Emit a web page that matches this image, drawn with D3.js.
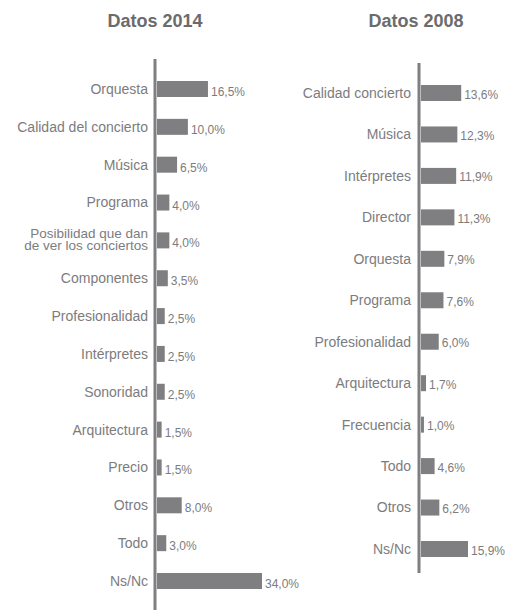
<!DOCTYPE html>
<html>
<head>
<meta charset="utf-8">
<script src="https://cdn.jsdelivr.net/npm/d3@7"></script>
<style>
  body { margin: 0; background: #fff; }
  text { font-family: "Liberation Sans", Arial, sans-serif; }
</style>
</head>
<body>
<div class="chart"></div>
<script>
var svgWidth = 521;
var svgHeight = 610;

// datos 2014
var cats2014 = ["Orquesta", "Calidad del concierto", "Música", "Programa",
  "Posibilidad que dan|de ver los conciertos", "Componentes", "Profesionalidad",
  "Intérpretes", "Sonoridad", "Arquitectura", "Precio", "Otros", "Todo", "Ns/Nc"];
var vals2014 = [16.5, 10.0, 6.5, 4.0, 4.0, 3.5, 2.5, 2.5, 2.5, 1.5, 1.5, 8.0, 3.0, 34.0];

// datos 2008
var cats2008 = ["Calidad concierto", "Música", "Intérpretes", "Director", "Orquesta",
  "Programa", "Profesionalidad", "Arquitectura", "Frecuencia", "Todo", "Otros", "Ns/Nc"];
var vals2008 = [13.6, 12.3, 11.9, 11.3, 7.9, 7.6, 6.0, 1.7, 1.0, 4.6, 6.2, 15.9];

var barColor = "#7f7f82";
var textColor = "#7c7c7e";

var svg = d3.select(".chart")
    .append("svg")
    .attr("width", svgWidth)
    .attr("height", svgHeight);

function drawPanel(opt) {
  var g = svg.append("g");

  var yScale = d3.scalePoint()
      .domain(opt.cats)
      .range(opt.yRange);

  var xScale = d3.scaleLinear()
      .domain([0, opt.xMax])
      .range([opt.x0, opt.x0 + opt.xLen]);

  // title
  g.append("text")
      .attr("x", opt.titleX)
      .attr("y", 27)
      .attr("text-anchor", "middle")
      .attr("font-size", "18px")
      .attr("font-weight", "bold")
      .attr("fill", "#6b6b6d")
      .text(opt.title);

  // bars
  var barH = 16;
  g.selectAll("rect")
      .data(opt.cats)
      .join("rect")
      .attr("x", xScale(0))
      .attr("y", d => yScale(d) - barH / 2)
      .attr("width", (d, i) => xScale(opt.vals[i]) - xScale(0))
      .attr("height", barH)
      .attr("fill", barColor);

  // axis line
  g.append("line")
      .attr("x1", opt.axisX).attr("x2", opt.axisX)
      .attr("y1", opt.axisY[0]).attr("y2", opt.axisY[1])
      .attr("stroke", barColor)
      .attr("stroke-width", 3);

  // category labels (| = line break)
  g.selectAll(".cat")
      .data(opt.cats)
      .join("text")
      .classed("cat", true)
      .attr("x", opt.labelX)
      .attr("y", d => yScale(d))
      .attr("text-anchor", "end")
      .attr("font-size", d => d.includes("|") ? "13.5px" : "14px")
      .attr("fill", textColor)
      .each(function(d) {
        var lines = d.split("|");
        var t = d3.select(this);
        lines.forEach((l, k) => {
          t.append("tspan")
            .attr("x", opt.labelX)
            .attr("dy", k == 0 ? (lines.length > 1 ? "-0.18em" : "0.35em") : "0.9em")
            .text(l);
        });
      });

  // value labels
  g.selectAll(".val")
      .data(opt.vals)
      .join("text")
      .classed("val", true)
      .attr("x", d => xScale(d) + 3)
      .attr("y", (d, i) => yScale(opt.cats[i]) + opt.valDy)
      .attr("font-size", "12px")
      .attr("fill", textColor)
      .text(d => d3.format(".1f")(d).replace(".", ",") + "%");
}

drawPanel({
  title: "Datos 2014", titleX: 155,
  cats: cats2014, vals: vals2014,
  yRange: [89, 581], xMax: 34, x0: 157, xLen: 105,
  axisX: 155, axisY: [59, 610], labelX: 148, valDy: 7
});

drawPanel({
  title: "Datos 2008", titleX: 416,
  cats: cats2008, vals: vals2008,
  yRange: [93, 549], xMax: 15.9, x0: 421, xLen: 47,
  axisX: 419, axisY: [63, 573], labelX: 411, valDy: 5.5
});
</script>
</body>
</html>
